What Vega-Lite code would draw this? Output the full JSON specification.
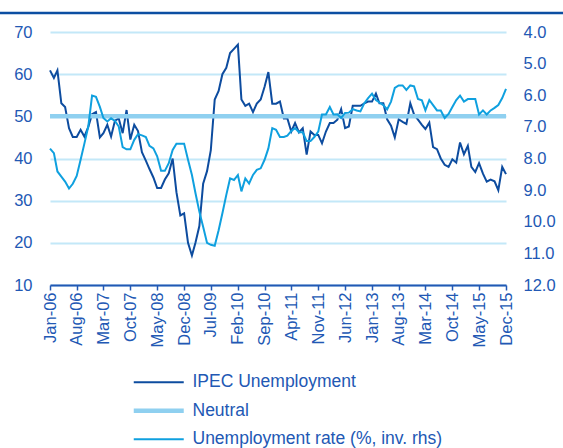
{
  "$schema": "https://vega.github.io/schema/vega-lite/v6.json",
  "width": 456,
  "height": 253,
  "autosize": {"type": "none"},
  "padding": {"left": 50, "top": 32, "right": 57, "bottom": 163},
  "background": "white",
  "config": {
    "view": {"stroke": null},
    "font": "Liberation Sans",
    "axis": {"labelFont": "Liberation Sans", "labelFontSize": 16.5, "labelColor": "#2258B4", "title": null},
    "axisX": {"labelOverlap": false, "labelBound": false, "labelFlush": false}
  },
  "data": {
    "values": [
      {"month": "2006-01", "ipec": 60.9, "rate": 7.69},
      {"month": "2006-02", "ipec": 59.1, "rate": 7.83},
      {"month": "2006-03", "ipec": 60.9, "rate": 8.41},
      {"month": "2006-04", "ipec": 53.1, "rate": 8.57},
      {"month": "2006-05", "ipec": 52.2, "rate": 8.73},
      {"month": "2006-06", "ipec": 47.2, "rate": 8.95},
      {"month": "2006-07", "ipec": 45.1, "rate": 8.80},
      {"month": "2006-08", "ipec": 45.1, "rate": 8.55},
      {"month": "2006-09", "ipec": 46.8, "rate": 8.04},
      {"month": "2006-10", "ipec": 45.2, "rate": 7.53},
      {"month": "2006-11", "ipec": 47.5, "rate": 6.99},
      {"month": "2006-12", "ipec": 50.5, "rate": 6.01},
      {"month": "2007-01", "ipec": 51.0, "rate": 6.05},
      {"month": "2007-02", "ipec": 45.0, "rate": 6.37},
      {"month": "2007-03", "ipec": 46.0, "rate": 6.72},
      {"month": "2007-04", "ipec": 48.0, "rate": 6.83},
      {"month": "2007-05", "ipec": 45.2, "rate": 6.73},
      {"month": "2007-06", "ipec": 49.0, "rate": 6.81},
      {"month": "2007-07", "ipec": 49.5, "rate": 6.99},
      {"month": "2007-08", "ipec": 46.0, "rate": 7.64},
      {"month": "2007-09", "ipec": 51.5, "rate": 7.71},
      {"month": "2007-10", "ipec": 44.5, "rate": 7.71},
      {"month": "2007-11", "ipec": 48.0, "rate": 7.41},
      {"month": "2007-12", "ipec": 46.5, "rate": 7.23},
      {"month": "2008-01", "ipec": 41.5, "rate": 7.27},
      {"month": "2008-02", "ipec": 39.5, "rate": 7.32},
      {"month": "2008-03", "ipec": 37.5, "rate": 7.60},
      {"month": "2008-04", "ipec": 35.5, "rate": 7.68},
      {"month": "2008-05", "ipec": 33.0, "rate": 7.93},
      {"month": "2008-06", "ipec": 33.0, "rate": 8.39},
      {"month": "2008-07", "ipec": 35.0, "rate": 8.39},
      {"month": "2008-08", "ipec": 36.5, "rate": 8.15},
      {"month": "2008-09", "ipec": 40.0, "rate": 7.73},
      {"month": "2008-10", "ipec": 32.0, "rate": 7.53},
      {"month": "2008-11", "ipec": 26.5, "rate": 7.53},
      {"month": "2008-12", "ipec": 27.0, "rate": 7.53},
      {"month": "2009-01", "ipec": 20.0, "rate": 8.04},
      {"month": "2009-02", "ipec": 17.0, "rate": 8.52},
      {"month": "2009-03", "ipec": 20.0, "rate": 9.09},
      {"month": "2009-04", "ipec": 24.0, "rate": 9.68},
      {"month": "2009-05", "ipec": 34.0, "rate": 10.16},
      {"month": "2009-06", "ipec": 37.0, "rate": 10.67},
      {"month": "2009-07", "ipec": 42.0, "rate": 10.73},
      {"month": "2009-08", "ipec": 54.0, "rate": 10.76},
      {"month": "2009-09", "ipec": 56.0, "rate": 10.27},
      {"month": "2009-10", "ipec": 60.0, "rate": 9.73},
      {"month": "2009-11", "ipec": 61.5, "rate": 9.15},
      {"month": "2009-12", "ipec": 65.0, "rate": 8.63},
      {"month": "2010-01", "ipec": 66.0, "rate": 8.68},
      {"month": "2010-02", "ipec": 67.0, "rate": 8.52},
      {"month": "2010-03", "ipec": 54.0, "rate": 9.04},
      {"month": "2010-04", "ipec": 52.5, "rate": 8.63},
      {"month": "2010-05", "ipec": 53.0, "rate": 8.79},
      {"month": "2010-06", "ipec": 51.0, "rate": 8.52},
      {"month": "2010-07", "ipec": 53.0, "rate": 8.36},
      {"month": "2010-08", "ipec": 54.0, "rate": 8.31},
      {"month": "2010-09", "ipec": 57.0, "rate": 8.04},
      {"month": "2010-10", "ipec": 60.5, "rate": 7.68},
      {"month": "2010-11", "ipec": 53.0, "rate": 7.04},
      {"month": "2010-12", "ipec": 53.0, "rate": 7.09},
      {"month": "2011-01", "ipec": 53.5, "rate": 7.32},
      {"month": "2011-02", "ipec": 49.5, "rate": 7.32},
      {"month": "2011-03", "ipec": 49.5, "rate": 7.28},
      {"month": "2011-04", "ipec": 46.4, "rate": 7.13},
      {"month": "2011-05", "ipec": 48.4, "rate": 7.04},
      {"month": "2011-06", "ipec": 46.2, "rate": 7.17},
      {"month": "2011-07", "ipec": 47.2, "rate": 7.17},
      {"month": "2011-08", "ipec": 40.9, "rate": 7.45},
      {"month": "2011-09", "ipec": 46.4, "rate": 7.45},
      {"month": "2011-10", "ipec": 45.6, "rate": 7.32},
      {"month": "2011-11", "ipec": 45.6, "rate": 7.15},
      {"month": "2011-12", "ipec": 43.6, "rate": 6.61},
      {"month": "2012-01", "ipec": 46.4, "rate": 6.61},
      {"month": "2012-02", "ipec": 48.4, "rate": 6.37},
      {"month": "2012-03", "ipec": 48.4, "rate": 6.61},
      {"month": "2012-04", "ipec": 49.2, "rate": 6.60},
      {"month": "2012-05", "ipec": 51.7, "rate": 6.72},
      {"month": "2012-06", "ipec": 47.2, "rate": 6.56},
      {"month": "2012-07", "ipec": 47.6, "rate": 6.55},
      {"month": "2012-08", "ipec": 52.5, "rate": 6.44},
      {"month": "2012-09", "ipec": 52.5, "rate": 6.48},
      {"month": "2012-10", "ipec": 52.5, "rate": 6.51},
      {"month": "2012-11", "ipec": 53.1, "rate": 6.25},
      {"month": "2012-12", "ipec": 53.5, "rate": 6.09},
      {"month": "2013-01", "ipec": 53.5, "rate": 5.95},
      {"month": "2013-02", "ipec": 55.4, "rate": 6.15},
      {"month": "2013-03", "ipec": 53.1, "rate": 6.23},
      {"month": "2013-04", "ipec": 53.1, "rate": 6.31},
      {"month": "2013-05", "ipec": 49.3, "rate": 6.45},
      {"month": "2013-06", "ipec": 47.8, "rate": 6.20},
      {"month": "2013-07", "ipec": 45.0, "rate": 5.77},
      {"month": "2013-08", "ipec": 49.3, "rate": 5.69},
      {"month": "2013-09", "ipec": 48.7, "rate": 5.69},
      {"month": "2013-10", "ipec": 48.2, "rate": 5.83},
      {"month": "2013-11", "ipec": 53.1, "rate": 5.69},
      {"month": "2013-12", "ipec": 50.4, "rate": 5.72},
      {"month": "2014-01", "ipec": 49.2, "rate": 6.12},
      {"month": "2014-02", "ipec": 48.0, "rate": 6.16},
      {"month": "2014-03", "ipec": 47.0, "rate": 6.48},
      {"month": "2014-04", "ipec": 48.5, "rate": 6.15},
      {"month": "2014-05", "ipec": 42.7, "rate": 6.31},
      {"month": "2014-06", "ipec": 42.2, "rate": 6.48},
      {"month": "2014-07", "ipec": 40.0, "rate": 6.48},
      {"month": "2014-08", "ipec": 38.5, "rate": 6.72},
      {"month": "2014-09", "ipec": 38.0, "rate": 6.59},
      {"month": "2014-10", "ipec": 39.8, "rate": 6.37},
      {"month": "2014-11", "ipec": 39.0, "rate": 6.15},
      {"month": "2014-12", "ipec": 43.8, "rate": 6.01},
      {"month": "2015-01", "ipec": 41.0, "rate": 6.20},
      {"month": "2015-02", "ipec": 43.0, "rate": 6.12},
      {"month": "2015-03", "ipec": 38.0, "rate": 6.12},
      {"month": "2015-04", "ipec": 36.8, "rate": 6.12},
      {"month": "2015-05", "ipec": 38.9, "rate": 6.61},
      {"month": "2015-06", "ipec": 36.4, "rate": 6.48},
      {"month": "2015-07", "ipec": 34.5, "rate": 6.61},
      {"month": "2015-08", "ipec": 35.0, "rate": 6.48},
      {"month": "2015-09", "ipec": 34.6, "rate": 6.40},
      {"month": "2015-10", "ipec": 32.5, "rate": 6.31},
      {"month": "2015-11", "ipec": 38.0, "rate": 6.09},
      {"month": "2015-12", "ipec": 36.3, "rate": 5.80}
    ]
  },
  "layer": [
    {
      "layer": [
        {
          "mark": {"type": "line", "strokeWidth": 2, "color": "#0D4C9F"},
          "encoding": {
            "x": {
              "field": "month", "type": "temporal",
              "scale": {"type": "utc", "domain": [{"year": 2006, "month": 1, "date": 1, "utc": true}, {"year": 2015, "month": 12, "date": 1, "utc": true}]},
              "axis": {
                "values": [
                  {"year": 2006, "month": 1, "date": 1, "utc": true},
                  {"year": 2006, "month": 8, "date": 1, "utc": true},
                  {"year": 2007, "month": 3, "date": 1, "utc": true},
                  {"year": 2007, "month": 10, "date": 1, "utc": true},
                  {"year": 2008, "month": 5, "date": 1, "utc": true},
                  {"year": 2008, "month": 12, "date": 1, "utc": true},
                  {"year": 2009, "month": 7, "date": 1, "utc": true},
                  {"year": 2010, "month": 2, "date": 1, "utc": true},
                  {"year": 2010, "month": 9, "date": 1, "utc": true},
                  {"year": 2011, "month": 4, "date": 1, "utc": true},
                  {"year": 2011, "month": 11, "date": 1, "utc": true},
                  {"year": 2012, "month": 6, "date": 1, "utc": true},
                  {"year": 2013, "month": 1, "date": 1, "utc": true},
                  {"year": 2013, "month": 8, "date": 1, "utc": true},
                  {"year": 2014, "month": 3, "date": 1, "utc": true},
                  {"year": 2014, "month": 10, "date": 1, "utc": true},
                  {"year": 2015, "month": 5, "date": 1, "utc": true},
                  {"year": 2015, "month": 12, "date": 1, "utc": true}
                ],
                "tickCount": 40,
                "format": "%b-%y",
                "labelAngle": 270,
                "labelOverlap": false,
                "labelBound": false,
                "labelFlush": false,
                "tickSize": 5,
                "tickWidth": 1.5,
                "tickColor": "#2258B4",
                "domainColor": "#2258B4",
                "domainWidth": 2,
                "grid": false,
                "labelPadding": 2
              }
            },
            "y": {
              "field": "ipec", "type": "quantitative",
              "scale": {"domain": [10, 70], "nice": false, "zero": false},
              "axis": {"orient": "left", "values": [10, 20, 30, 40, 50, 60, 70], "grid": true, "gridColor": "#C3E8F8", "gridWidth": 2, "ticks": false, "domain": false, "labelPadding": 18}
            },
            "color": {
              "datum": "IPEC Unemployment",
              "scale": {"domain": ["IPEC Unemployment", "Neutral", "Unemployment rate (%, inv. rhs)"], "range": ["#0D4C9F", "#8FD0F0", "#0FA0DF"]},
              "legend": {
                "orient": "none", "legendX": 100, "legendY": 341.5, "direction": "vertical", "title": null,
                "symbolType": "M-2.5,0H2.5", "symbolSize": 400,
                "symbolStrokeWidth": {"expr": "datum.value === 'Neutral' ? 4.5 : 2"},
                "labelOffset": 25, "labelFontSize": 17.5, "labelColor": "#2258B4", "labelFont": "Liberation Sans",
                "rowPadding": 9.5, "labelLimit": 400
              }
            }
          }
        },
        {
          "data": {"values": [{}]},
          "mark": {"type": "rule", "strokeWidth": 4.5},
          "encoding": {
            "y": {"datum": 50, "type": "quantitative"},
            "color": {"datum": "Neutral"}
          }
        },
        {
          "data": {"values": [{}]},
          "mark": {"type": "rule", "strokeWidth": 2.5, "color": "#0B4EA2", "clip": false},
          "encoding": {
            "x": {"datum": {"year": 2004, "month": 11, "date": 1, "utc": true}, "type": "temporal"},
            "x2": {"datum": {"year": 2017, "month": 4, "date": 1, "utc": true}},
            "y": {"datum": 74.5, "type": "quantitative"}
          }
        }
      ]
    },
    {
      "mark": {"type": "line", "strokeWidth": 2, "color": "#0FA0DF"},
      "encoding": {
        "x": {"field": "month", "type": "temporal"},
        "y": {
          "field": "rate", "type": "quantitative",
          "scale": {"domain": [4, 12], "reverse": true, "nice": false, "zero": false},
          "axis": {"orient": "right", "values": [4, 5, 6, 7, 8, 9, 10, 11, 12], "format": ".1f", "grid": false, "ticks": false, "domain": false, "labelPadding": 17}
        },
        "color": {"datum": "Unemployment rate (%, inv. rhs)"}
      }
    }
  ],
  "resolve": {"scale": {"y": "independent"}}
}
